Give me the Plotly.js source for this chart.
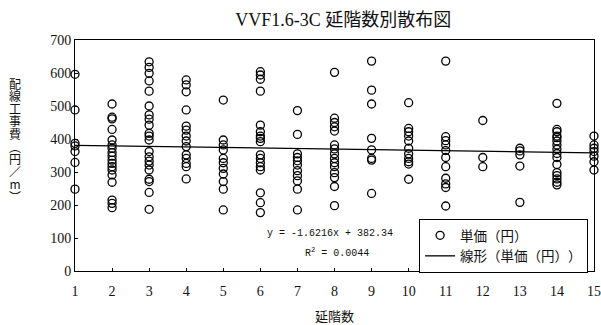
<!DOCTYPE html>
<html>
<head>
<meta charset="utf-8">
<script src="https://cdn.plot.ly/plotly-3.0.1.min.js"></script>
<style>
  html, body { margin: 0; padding: 0; background: #fff; }
  #chart { width: 601px; height: 325px; }
  svg text { text-spacing-trim: space-all; }
</style>
</head>
<body>
<div id="chart"></div>
<script>
// Number of floors (延階数) on the x axis
const floors = [1, 2, 3, 4, 5, 6, 7, 8, 9, 10, 11, 12, 13, 14, 15];

// Unit wiring cost (円/m) observed for each floor count
const pricesFloor1  = [596, 488, 387, 379, 362, 329, 248];
const pricesFloor2  = [506, 466, 461, 429, 397, 382, 372, 359, 348, 336, 326, 316, 306, 291, 269, 215, 205, 192];
const pricesFloor3  = [634, 617, 599, 576, 545, 500, 473, 460, 442, 417, 409, 397, 362, 346, 333, 321, 306, 278, 271, 238, 187];
const pricesFloor4  = [579, 564, 543, 488, 439, 427, 409, 394, 377, 352, 341, 326, 316, 279];
const pricesFloor5  = [518, 397, 382, 367, 341, 328, 311, 294, 271, 248, 185];
const pricesFloor6  = [604, 594, 581, 545, 442, 422, 409, 402, 392, 352, 341, 328, 316, 306, 237, 207, 177];
const pricesFloor7  = [486, 414, 355, 344, 334, 321, 304, 289, 273, 248, 185];
const pricesFloor8  = [602, 463, 450, 437, 424, 382, 370, 355, 341, 328, 316, 298, 283, 256, 198];
const pricesFloor9  = [636, 548, 506, 402, 367, 341, 336, 235];
const pricesFloor10 = [510, 432, 422, 409, 394, 372, 355, 341, 331, 324, 278];
const pricesFloor11 = [636, 407, 395, 382, 365, 344, 316, 281, 264, 253, 197];
const pricesFloor12 = [456, 344, 316];
const pricesFloor13 = [372, 364, 352, 318, 208];
const pricesFloor14 = [508, 429, 422, 409, 404, 394, 382, 369, 356, 344, 323, 298, 289, 279, 269, 261];
const pricesFloor15 = [409, 382, 372, 362, 348, 331, 306];

const pricesByFloor = [
  pricesFloor1, pricesFloor2, pricesFloor3, pricesFloor4, pricesFloor5,
  pricesFloor6, pricesFloor7, pricesFloor8, pricesFloor9, pricesFloor10,
  pricesFloor11, pricesFloor12, pricesFloor13, pricesFloor14, pricesFloor15
];

// Linear fit as printed on the chart
const trendSlope = -1.6216;
const trendIntercept = 382.34;
const trendR2 = '0.0044';

// Y-axis caption, set in vertical writing
const yCaption = '配線工事費（円／m）';

// Flatten into point lists
const ptX = [], ptY = [];
floors.forEach((f, i) => {
  pricesByFloor[i].forEach(v => { ptX.push(f); ptY.push(v); });
});

const xMin = floors[0], xMax = floors[floors.length - 1];
const trendX = [xMin, xMax];
const trendY = trendX.map(x => trendSlope * x + trendIntercept);

const serif = '"Liberation Serif", "Noto Sans CJK JP", serif';
const cjk = '"Noto Sans CJK JP", sans-serif';
const mono = '"Liberation Mono", monospace';

const traces = [
  {
    type: 'scatter', mode: 'markers', name: '単価（円）',
    x: ptX, y: ptY, cliponaxis: false,
    marker: { symbol: 'circle-open', size: 8, color: '#000', line: { width: 1.3, color: '#000' } }
  },
  {
    type: 'scatter', mode: 'lines', name: '線形（単価（円））',
    x: trendX, y: trendY, cliponaxis: false,
    line: { color: '#000', width: 1.3 }
  }
];

const M = { l: 75, r: 7, t: 40, b: 54 };

const layout = {
  width: 601, height: 325,
  paper_bgcolor: '#fff', plot_bgcolor: '#fff',
  margin: M,
  title: {
    text: 'VVF1.6-3C 延階数別散布図',
    font: { family: serif, size: 18, color: '#111' },
    x: 0.571, xanchor: 'center', y: 0.94, yanchor: 'middle'
  },
  showlegend: true,
  legend: {
    x: 0.663, y: 0.225, xanchor: 'left', yanchor: 'top',
    bgcolor: '#fff', bordercolor: '#000', borderwidth: 1,
    font: { family: cjk, size: 13.5, color: '#111' },
    tracegroupgap: 0
  },
  xaxis: {
    range: [xMin, xMax], tickmode: 'array', tickvals: floors, ticktext: floors.map(String),
    ticks: 'inside', ticklen: 3, tickcolor: '#000',
    ticklabelstandoff: 7, ticklabeloverflow: 'allow',
    showline: true, mirror: true, linecolor: '#000', linewidth: 1,
    showgrid: false, zeroline: false,
    tickfont: { family: serif, size: 14, color: '#111' },
    title: { text: '延階数', font: { family: cjk, size: 13, color: '#111' }, standoff: 14 }
  },
  yaxis: {
    range: [0, 700], dtick: 100, tick0: 0,
    ticks: 'inside', ticklen: 3, tickcolor: '#000',
    showline: true, mirror: true, linecolor: '#000', linewidth: 1,
    showgrid: false, zeroline: false,
    tickfont: { family: serif, size: 14, color: '#111' }
  },
  annotations: [
    {
      xref: 'x', yref: 'y', x: 7.89, y: 115, xanchor: 'center', yanchor: 'middle',
      text: 'y = ' + trendSlope + 'x + ' + trendIntercept, showarrow: false,
      font: { family: mono, size: 10, color: '#111' }
    },
    {
      xref: 'x', yref: 'y', x: 8.08, y: 57, xanchor: 'center', yanchor: 'middle',
      text: 'R<sup>2</sup> = ' + trendR2, showarrow: false,
      font: { family: mono, size: 10, color: '#111' }
    }
  ]
};

Plotly.newPlot('chart', traces, layout, { displayModeBar: false, staticPlot: true }).then(gd => {
  // Vertical (tategaki) y-axis caption placed left of the tick labels
  const svgs = gd.querySelectorAll('svg.main-svg');
  const top = svgs[svgs.length - 1];
  const NS = 'http://www.w3.org/2000/svg';
  const t = document.createElementNS(NS, 'text');
  t.setAttribute('class', 'ytitle-vertical');
  t.setAttribute('x', 15);
  t.setAttribute('y', 78);
  t.setAttribute('style',
    'writing-mode: vertical-rl; text-orientation: upright; ' +
    'font-family: "Noto Sans CJK JP", sans-serif; font-size: 12px; ' +
    'letter-spacing: 0.6px; fill: #111;');
  t.textContent = yCaption;
  top.appendChild(t);
});
</script>
</body>
</html>
